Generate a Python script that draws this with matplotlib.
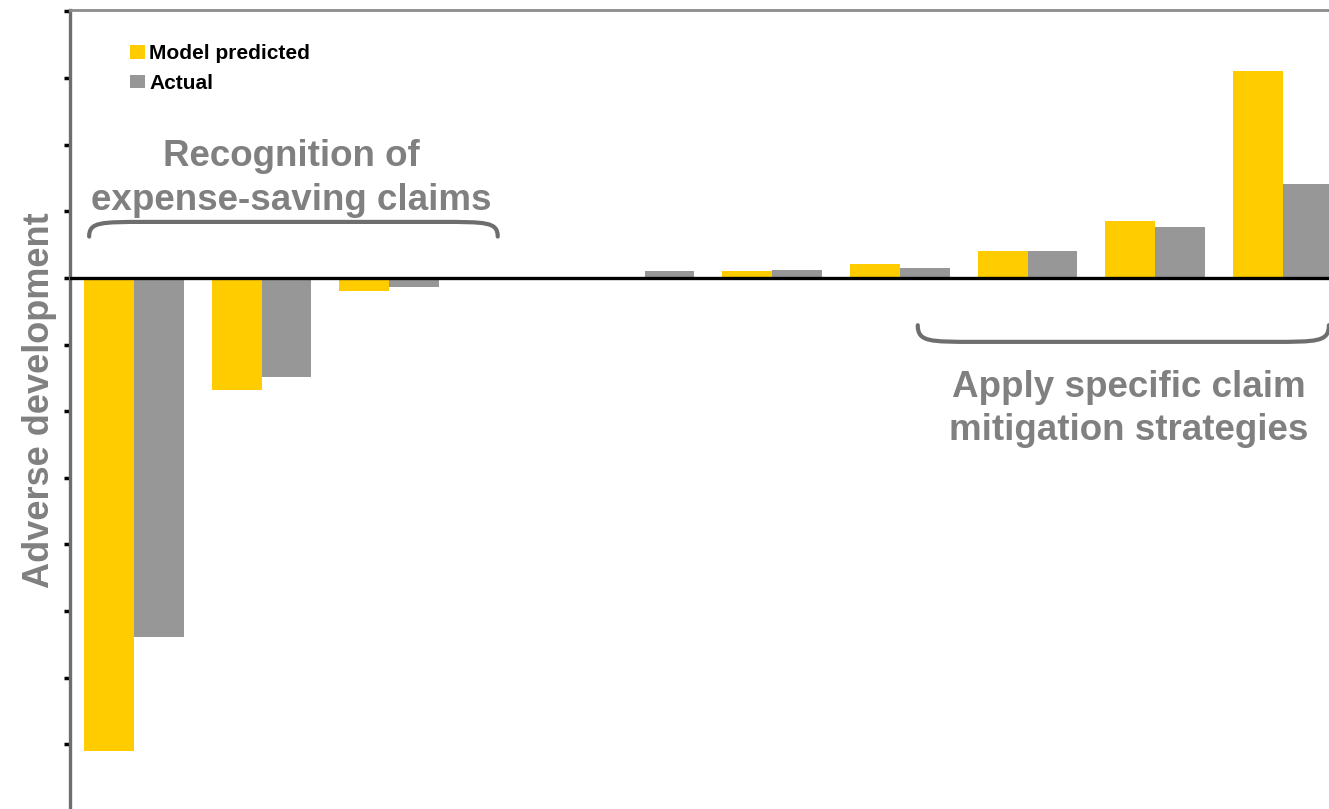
import matplotlib
matplotlib.use("Agg")
import matplotlib.pyplot as plt
import numpy as np
from matplotlib.path import Path
from matplotlib.patches import PathPatch

plt.rcParams['font.family'] = ['Liberation Sans', 'DejaVu Sans']

categories = list(range(1, 11))
model_predicted = [-7.1, -1.68, -0.2, 0.0, 0.0, 0.1, 0.21, 0.41, 0.86, 3.11]
actual = [-5.39, -1.49, -0.14, 0.0, 0.1, 0.12, 0.15, 0.41, 0.77, 1.41]
series_names = ["Model predicted", "Actual"]
left_note = "Recognition of\nexpense-saving claims"
right_note = "Apply specific claim\nmitigation strategies"
ylabel = "Adverse development"

YELLOW = "#FFCC00"
GRAY = "#979797"
TXT_GRAY = "#808080"

W, H = 1329, 809
fig = plt.figure(figsize=(W / 100, H / 100), dpi=100)
ax = fig.add_axes([70 / W, 0.0, (1346.75 - 70) / W, (809 - 10) / 809])

x = np.arange(len(categories))
bw = 0.39
ax.bar(x - bw / 2, model_predicted, width=bw, color=YELLOW, label=series_names[0], zorder=2)
ax.bar(x + bw / 2, actual, width=bw, color=GRAY, label=series_names[1], zorder=2)

ax.set_xlim(-0.5, len(categories) - 0.5)
ax.set_ylim(-7.97, 4.02)
ax.axhline(0, color="black", lw=2.4, zorder=3)

for s in ["right", "bottom"]:
    ax.spines[s].set_visible(False)
ax.spines["left"].set_color("#6e6e6e")
ax.spines["left"].set_linewidth(2.4)
ax.spines["top"].set_color("#8c8c8c")
ax.spines["top"].set_linewidth(2.0)
ax.set_xticks([])
ax.set_yticks(np.arange(-7, 5, 1))
ax.set_yticklabels([])
ax.tick_params(axis="y", direction="out", length=4, width=2.5, color="black")

ax.set_ylabel(ylabel, fontsize=26, fontweight="bold", color=TXT_GRAY)
ax.yaxis.set_label_coords(-0.0102, 0.512)

leg = ax.legend(loc="upper left", bbox_to_anchor=(0.047, 0.957), frameon=False,
                fontsize=15, handlelength=0.72, handleheight=0.62, handletextpad=0.2,
                labelspacing=0.5, borderaxespad=0, borderpad=0)
for t in leg.get_texts():
    t.set_fontweight("bold")

def bracket(x0, x1, yl, ye, rx):
    verts = [(x0, ye), (x0, yl), (x0 + rx * 0.2, yl), (x0 + rx, yl),
             (x1 - rx, yl), (x1 - rx * 0.2, yl), (x1, yl), (x1, ye)]
    codes = [Path.MOVETO, Path.CURVE4, Path.CURVE4, Path.CURVE4,
             Path.LINETO, Path.CURVE4, Path.CURVE4, Path.CURVE4]
    p = PathPatch(Path(verts, codes), fill=False, edgecolor="#6e6e6e", lw=3.0,
                  capstyle="round", zorder=4)
    ax.add_patch(p)

bracket(-0.35, 2.85, 0.84, 0.62, 0.45)
bracket(6.14, 9.36, -0.96, -0.71, 0.45)

ax.text(1.23, 1.49, left_note, ha="center", va="center", fontsize=26.5,
        fontweight="bold", color=TXT_GRAY, linespacing=1.32)
ax.text(7.79, -1.97, right_note, ha="center", va="center", fontsize=26.5,
        fontweight="bold", color=TXT_GRAY, linespacing=1.32)

fig.savefig("out.png", dpi=100)
